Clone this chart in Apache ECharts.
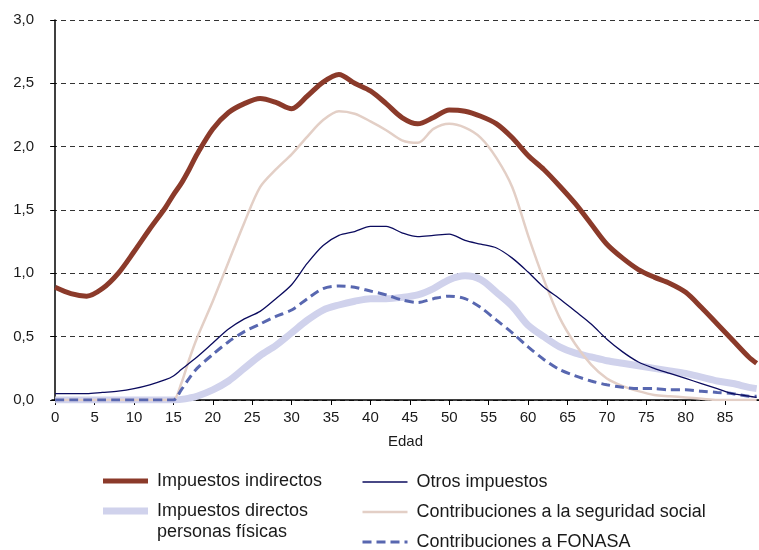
<!DOCTYPE html>
<html>
<head>
<meta charset="utf-8">
<script src="https://cdn.jsdelivr.net/npm/echarts@6/dist/echarts.min.js"></script>
<style>html,body{margin:0;padding:0;background:#fff}#c{width:759px;height:550px}</style>
</head>
<body>
<div id="c"></div>
<script>
const ages = [0,2,4,6,8,10,12,14,15,16,17,18,20,22,24,26,28,30,32,34,36,38,40,42,44,46,48,50,52,54,56,58,60,62,64,66,68,70,72,74,76,78,80,82,84,86,88,89];
const xTicks = [0,5,10,15,20,25,30,35,40,45,50,55,60,65,70,75,80,85];

const indirectos = [0.89,0.84,0.82,0.88,1.00,1.17,1.35,1.52,1.62,1.71,1.82,1.94,2.14,2.27,2.34,2.38,2.35,2.30,2.40,2.51,2.57,2.50,2.44,2.34,2.23,2.18,2.23,2.29,2.28,2.24,2.18,2.07,1.93,1.82,1.69,1.55,1.39,1.23,1.12,1.03,0.97,0.92,0.85,0.73,0.60,0.47,0.34,0.29];
const directos = [0,0,0,0,0,0,0,0,0,0.005,0.015,0.03,0.08,0.15,0.25,0.35,0.43,0.53,0.63,0.71,0.75,0.78,0.80,0.80,0.81,0.83,0.88,0.95,0.98,0.95,0.85,0.74,0.59,0.50,0.42,0.37,0.34,0.31,0.29,0.27,0.25,0.23,0.21,0.18,0.15,0.13,0.10,0.09];
const otros = [0.05,0.05,0.05,0.06,0.07,0.09,0.12,0.16,0.19,0.24,0.29,0.34,0.45,0.56,0.64,0.70,0.80,0.91,1.08,1.22,1.30,1.33,1.37,1.37,1.32,1.29,1.30,1.31,1.26,1.23,1.20,1.12,1.01,0.89,0.80,0.70,0.60,0.48,0.38,0.30,0.25,0.21,0.17,0.13,0.09,0.05,0.03,0.02];
const seguridad = [0,0,0,0,0,0,0,0,0,0.13,0.32,0.49,0.78,1.09,1.40,1.68,1.82,1.94,2.08,2.21,2.28,2.26,2.20,2.13,2.05,2.03,2.14,2.18,2.15,2.07,1.91,1.68,1.30,0.95,0.65,0.44,0.28,0.17,0.11,0.07,0.04,0.03,0.02,0.01,0,0,0,0];
const fonasa = [0,0,0,0,0,0,0,0,0,0.08,0.17,0.25,0.36,0.46,0.54,0.60,0.66,0.71,0.80,0.88,0.90,0.89,0.86,0.83,0.79,0.77,0.80,0.82,0.80,0.73,0.63,0.53,0.42,0.32,0.24,0.19,0.15,0.12,0.10,0.09,0.09,0.08,0.08,0.07,0.06,0.05,0.03,0.03];

const names = {
  ind: 'Impuestos indirectos',
  dir: 'Impuestos directos personas físicas',
  otr: 'Otros impuestos',
  seg: 'Contribuciones a la seguridad social',
  fon: 'Contribuciones a FONASA'
};
const colors = {ind:'#8b3a2a', dir:'#d0d2ec', otr:'#0b0b5e', seg:'#e3cfc6', fon:'#5867b0'};

function pts(vals){ return ages.map((a,i)=>[a, vals[i]]); }
function ser(key, vals, width, type){
  return {
    name: names[key], type: 'line', data: pts(vals),
    smooth: 0.3, showSymbol: false, symbol: 'none',
    lineStyle: {color: colors[key], width: width, type: type || 'solid'},
    itemStyle: {color: colors[key]}
  };
}
const font = 'Liberation Sans, Arial, sans-serif';
const legText = {fontFamily: font, fontSize: 18, color: '#1a1a1a', lineHeight: 20, padding: [0,0,0,4]};
const noSym = {opacity: 0};

const chart = echarts.init(document.getElementById('c'), null, {renderer: 'canvas'});
chart.setOption({
  animation: false,
  backgroundColor: '#fff',
  grid: {left: 52, right: 0, top: 20, bottom: 150, containLabel: false},
  xAxis: {
    type: 'value', min: -0.4, max: 89.3,
    name: 'Edad', nameLocation: 'middle', nameGap: 34,
    nameTextStyle: {fontFamily: font, fontSize: 15, color: '#1a1a1a'},
    axisLine: {show: true, lineStyle: {color: '#000', width: 1.5}},
    axisTick: {show: true, length: 5, customValues: xTicks, lineStyle: {color: '#000'}},
    axisLabel: {customValues: xTicks, fontFamily: font, fontSize: 15, color: '#1a1a1a', margin: 10},
    splitLine: {show: false}
  },
  yAxis: {
    type: 'value', min: 0, max: 3, interval: 0.5,
    axisLine: {show: true, lineStyle: {color: '#000', width: 1.5}},
    axisTick: {show: true, length: 5, lineStyle: {color: '#000'}},
    axisLabel: {fontFamily: font, fontSize: 15, color: '#1a1a1a', margin: 18,
      formatter: v => v.toFixed(1).replace('.', ',')},
    splitLine: {show: true, lineStyle: {color: '#333', width: 1, type: [5, 4]}}
  },
  legend: [
    {
      left: 100.5, top: 471, orient: 'vertical', padding: 0, itemWidth: 45, itemHeight: 14,
      selectedMode: false, textStyle: legText,
      data: [{name: names.ind, lineStyle: {width: 5}, itemStyle: noSym}]
    },
    {
      left: 99.5, top: 479.5, orient: 'vertical', padding: 0, itemWidth: 45, itemHeight: 14,
      selectedMode: false,
      formatter: () => ' \nImpuestos directos\npersonas físicas',
      textStyle: Object.assign({}, legText, {lineHeight: 21}),
      data: [{name: names.dir, lineStyle: {width: 7}, itemStyle: noSym}]
    },
    {
      left: 361, top: 472, height: 100, orient: 'vertical', padding: 0, itemWidth: 45, itemHeight: 14, itemGap: 10,
      selectedMode: false, textStyle: legText,
      data: [
        {name: names.otr, lineStyle: {width: 1.5}, itemStyle: noSym},
        {name: names.seg, lineStyle: {width: 2.5}, itemStyle: noSym},
        {name: names.fon, lineStyle: {width: 3, type: [9, 5]}, itemStyle: noSym}
      ]
    }
  ],
  series: [
    ser('dir', directos, 7),
    ser('seg', seguridad, 2.5),
    ser('ind', indirectos, 5),
    ser('fon', fonasa, 3, [9, 5]),
    ser('otr', otros, 1.3)
  ]
});
</script>
</body>
</html>
